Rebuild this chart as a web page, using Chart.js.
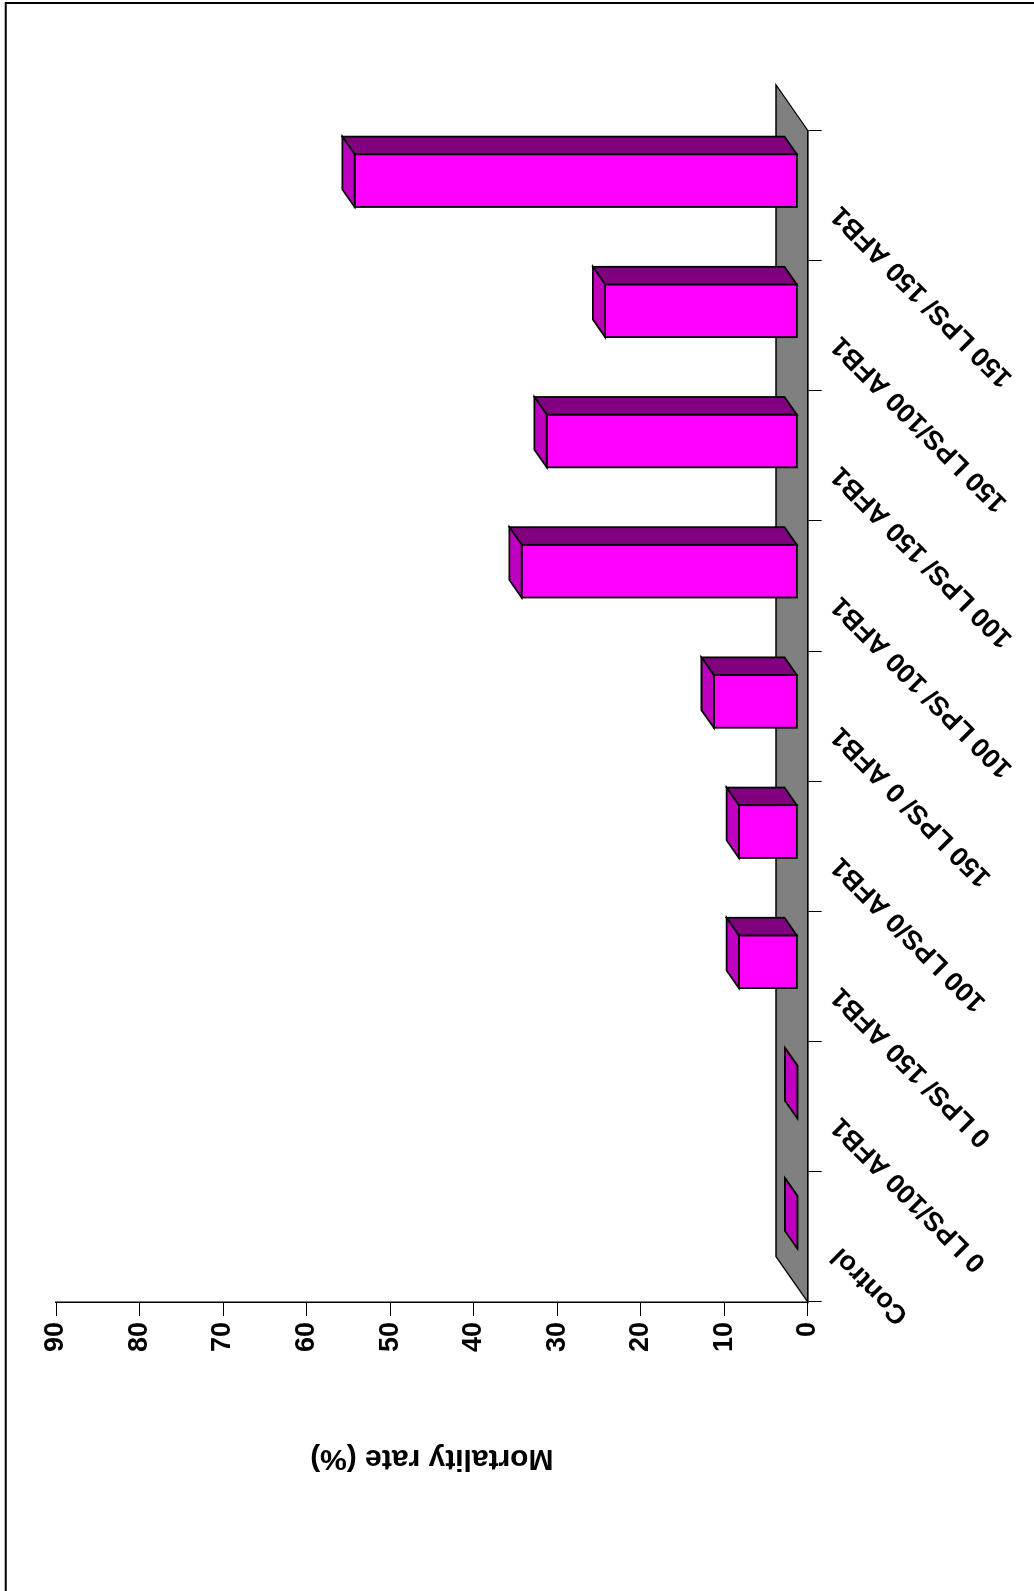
<!DOCTYPE html>
<html>
<head>
<meta charset="utf-8">
<title>Mortality rate</title>
<script src="https://cdn.jsdelivr.net/npm/chart.js@4.4.0/dist/chart.umd.min.js"></script>
<style>
html,body{margin:0;padding:0;background:#fff;overflow:hidden;}
/* the chart is laid out upright and then turned a quarter left, like the scan */
#wrap{position:absolute;left:0;top:0;width:1591px;height:1034px;transform-origin:0 0;transform:translateY(1591px) rotate(-90deg);}
</style>
</head>
<body>
<div id="wrap"><canvas id="mortalityChart" width="1591" height="1034"></canvas></div>
<script>
//Data
var groups = ["Control","0 LPS/100 AFB1","0 LPS/ 150 AFB1","100 LPS/0 AFB1","150 LPS/ 0 AFB1","100 LPS/ 100 AFB1","100 LPS/ 150 AFB1","150 LPS/100 AFB1","150 LPS/ 150 AFB1"];
var mortality = [0,0,7,7,10,33,30,23,53];
var valueTicks = [0,10,20,30,40,50,60,70,80,90];

//3D look
var floorDepth = {dx:45.5, dy:-31.7};
var barFront = {dx:14.8, dy:-10.4};
var barDepth = {dx:17.6, dy:-12.3};
var FONT = "'Liberation Sans', Arial, sans-serif";

function poly(ctx, pts, fill){
	ctx.beginPath();
	ctx.moveTo(pts[0][0], pts[0][1]);
	for(var i=1;i<pts.length;i++){ctx.lineTo(pts[i][0], pts[i][1]);}
	ctx.closePath();
	ctx.fillStyle = fill;
	ctx.fill();
	ctx.stroke();
}

var boxes3d = {
	id:'boxes3d',
	beforeDatasetsDraw:function(chart){
		var ctx = chart.ctx, xs = chart.scales.x, ys = chart.scales.y;
		var y0 = ys.getPixelForValue(0);
		ctx.save();
		ctx.lineJoin = 'miter';
		ctx.strokeStyle = '#000';
		ctx.lineWidth = 1.3;
		//Floor
		poly(ctx, [[xs.left,y0],[xs.left+floorDepth.dx,y0+floorDepth.dy],[xs.right+floorDepth.dx,y0+floorDepth.dy],[xs.right,y0]], '#808080');
		//Bars
		ctx.lineWidth = 1.8;
		chart.getDatasetMeta(0).data.forEach(function(bar){
			var p = bar.getProps(['x','y','base','width'], true);
			var x1 = p.x - p.width/2 + barFront.dx, x2 = p.x + p.width/2 + barFront.dx;
			var yt = p.y + barFront.dy, yb = p.base + barFront.dy;
			var dx = barDepth.dx, dy = barDepth.dy;
			poly(ctx, [[x1,yt],[x2,yt],[x2,yb],[x1,yb]], '#ff00ff');
			poly(ctx, [[x2,yt],[x2,yb],[x2+dx,yb+dy],[x2+dx,yt+dy]], '#800080');
			poly(ctx, [[x1,yt],[x2,yt],[x2+dx,yt+dy],[x1+dx,yt+dy]], '#c000c0');
		});
		ctx.restore();
	},
	afterDraw:function(chart){
		//Frame (only the two sides that fall inside the picture)
		var ctx = chart.ctx;
		ctx.save();
		ctx.strokeStyle = '#000';
		ctx.lineWidth = 2;
		ctx.beginPath();
		ctx.moveTo(0,5.7);
		ctx.lineTo(1588,5.7);
		ctx.lineTo(1588,1034);
		ctx.stroke();
		ctx.restore();
	}
};

//Chart
var mChart = document.getElementById('mortalityChart');
var mortalityChart = new Chart(mChart,{
	type:'bar',
	data:{
		labels:groups,
		datasets:[{
			label:'Mortality rate (%)',
			data:mortality,
			backgroundColor:'rgba(0,0,0,0)',
			borderWidth:0,
			barPercentage:0.405,
			categoryPercentage:1
		}]
	},
	options:{
		responsive:false,
		animation:false,
		layout:{padding:{left:111,right:130.3,top:56,bottom:0}},
		plugins:{legend:{display:false},tooltip:{enabled:false}},
		scales:{
			x:{
				offset:true,
				afterFit:function(s){s.height = 226.3;},
				grid:{display:true,drawOnChartArea:false,tickLength:14,color:'#000',lineWidth:1},
				border:{display:true,color:'#000',width:1.5},
				ticks:{
					color:'#000',
					font:{family:FONT,size:27,weight:'bold'},
					maxRotation:45,minRotation:45,
					autoSkip:false,
					labelOffset:-15,
					padding:3
				}
			},
			y:{
				min:0,max:90,
				afterFit:function(s){s.width = 178;},
				afterBuildTicks:function(s){s.ticks = valueTicks.map(function(v){return {value:v};});},
				grid:{display:true,drawOnChartArea:false,tickLength:14,color:'#000',lineWidth:1},
				border:{display:true,color:'#000',width:1.5},
				ticks:{color:'#000',font:{family:FONT,size:27,weight:'bold'},padding:6},
				title:{display:true,text:'Mortality rate (%)',color:'#000',font:{family:FONT,size:30,weight:'bold'}}
			}
		}
	},
	plugins:[boxes3d]
});
</script>
</body>
</html>
